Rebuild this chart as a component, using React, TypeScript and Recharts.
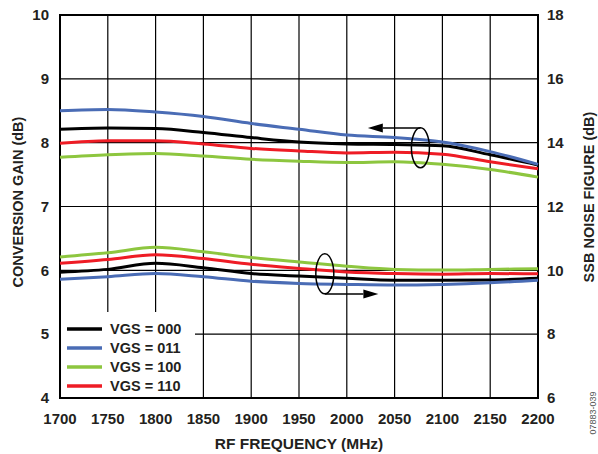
import React from 'react';
import {
  ComposedChart, Line, XAxis, YAxis, CartesianGrid,
  ReferenceArea, ReferenceDot, ReferenceLine
} from 'recharts';

// --- DATA ---

const freqs = [1700, 1750, 1800, 1850, 1900, 1950, 2000, 2050, 2100, 2150, 2200];

// conversion gain, left axis (dB)
const gain000 = [8.21, 8.23, 8.22, 8.16, 8.08, 8.01, 7.98, 7.97, 7.95, 7.81, 7.65];
const gain011 = [8.50, 8.52, 8.48, 8.41, 8.30, 8.21, 8.12, 8.08, 8.01, 7.86, 7.66];
const gain100 = [7.77, 7.81, 7.83, 7.79, 7.74, 7.71, 7.69, 7.70, 7.66, 7.58, 7.46];
const gain110 = [7.99, 8.03, 8.03, 7.98, 7.91, 7.87, 7.84, 7.85, 7.82, 7.70, 7.59];

// SSB noise figure, right axis (dB)
const nf000 = [9.94, 10.03, 10.22, 10.08, 9.90, 9.82, 9.75, 9.69, 9.69, 9.70, 9.75];
const nf011 = [9.72, 9.80, 9.90, 9.80, 9.66, 9.59, 9.56, 9.54, 9.56, 9.61, 9.69];
const nf100 = [10.42, 10.55, 10.72, 10.58, 10.40, 10.26, 10.13, 10.03, 10.01, 10.03, 10.05];
const nf110 = [10.22, 10.34, 10.49, 10.37, 10.19, 10.06, 9.95, 9.90, 9.88, 9.90, 9.89];

const gainTicks = [4, 5, 6, 7, 8, 9, 10];
const nfTicks = [6, 8, 10, 12, 14, 16, 18];

const series = [
  { key: '000', name: 'VGS = 000', color: '#000000' },
  { key: '011', name: 'VGS = 011', color: '#4a6cb5' },
  { key: '100', name: 'VGS = 100', color: '#8dc63f' },
  { key: '110', name: 'VGS = 110', color: '#ee1c25' },
];

const data = freqs.map((f, i) => ({
  f,
  g000: gain000[i], g011: gain011[i], g100: gain100[i], g110: gain110[i],
  n000: nf000[i], n011: nf011[i], n100: nf100[i], n110: nf110[i],
}));

const FONT = '"Liberation Sans", Arial, sans-serif';
const tickStyle = { fontSize: 15, fontWeight: 700, fill: '#231f20', fontFamily: FONT };
const titleStyle = { fontSize: 14.5, fontWeight: 700, fontFamily: FONT, fill: '#231f20' };

// rotated axis title
const VTitle = (x: number, y: number, text: string) => () => (
  <text x={x} y={y} transform={`rotate(-90, ${x}, ${y})`} textAnchor="middle"
    dominantBaseline="central" style={titleStyle}>
    {text}
  </text>
);

// ellipse around a group of curves
const Ring = (props: any) => (
  <ellipse cx={props.cx} cy={props.cy} rx={9} ry={20} fill="none" stroke="#000" strokeWidth={1.5} />
);

// horizontal line with arrowhead at its end
const Arrow = (props: any) => {
  const { x1, y1, x2, y2 } = props;
  const dir = x2 > x1 ? 1 : -1;
  const tip = x2;
  const base = tip - dir * 15;
  return (
    <g>
      <line x1={x1} y1={y1} x2={base} y2={y2} stroke="#000" strokeWidth={1.5} />
      <polygon points={`${tip},${y2} ${base},${y2 - 4.5} ${base},${y2 + 4.5}`} fill="#000" />
    </g>
  );
};

// legend sits inside the plot, over the grid
const LegendBox = () => (
  <div style={{
    position: 'absolute', left: 61, top: 312, width: 134, height: 85, background: '#fff',
    paddingTop: 7, boxSizing: 'border-box'
  }}>
    {series.map(s => (
      <div key={s.key} style={{ display: 'flex', alignItems: 'center', height: 19 }}>
        <svg width={49} height={10}>
          <line x1={6} y1={5} x2={41} y2={5} stroke={s.color} strokeWidth={3.5} />
        </svg>
        <span style={{ fontSize: 14.5, fontWeight: 700, fontFamily: FONT, color: '#231f20', whiteSpace: 'nowrap' }}>
          {s.name}
        </span>
      </div>
    ))}
  </div>
);

export default function App() {
  return (
    <div style={{ position: 'absolute', left: 0, top: 0, width: 598, height: 454, background: '#fff' }}>
      <ComposedChart width={598} height={454} data={data} margin={{ top: 15, right: 0, left: 0, bottom: 0 }}>
        <CartesianGrid stroke="#000" strokeWidth={1.2} yAxisId="gain"
          horizontalValues={gainTicks} verticalValues={freqs} />

        <XAxis dataKey="f" type="number" domain={[1700, 2200]} ticks={freqs} interval={0}
          height={56} tickLine={false} axisLine={false} tickMargin={9} tick={tickStyle}
          label={(props: any) => {
            const vb = props.viewBox || {};
            return (
              <text x={vb.x + vb.width / 2} y={449} textAnchor="middle"
                style={{ ...titleStyle, fontSize: 15.5 }}>
                RF FREQUENCY (MHz)
              </text>
            );
          }} />

        <YAxis yAxisId="gain" domain={[4, 10]} ticks={gainTicks} interval={0} width={60}
          tickLine={false} axisLine={false} tickMargin={5} tick={tickStyle}
          label={VTitle(17.5, 202, 'CONVERSION GAIN (dB)')} />

        <YAxis yAxisId="nf" orientation="right" domain={[6, 18]} ticks={nfTicks} interval={0} width={60}
          tickLine={false} axisLine={false} tickMargin={3} tick={tickStyle}
          label={VTitle(589, 197, 'SSB NOISE FIGURE (dB)')} />

        <ReferenceArea yAxisId="gain" x1={1700} x2={2200} y1={4} y2={10}
          fill="none" stroke="#000" strokeWidth={2} />

        {series.map(s => (
          <Line key={'g' + s.key} yAxisId="gain" type="monotone" dataKey={'g' + s.key}
            stroke={s.color} strokeWidth={3} dot={false} isAnimationActive={false} />
        ))}
        {series.map(s => (
          <Line key={'n' + s.key} yAxisId="nf" type="monotone" dataKey={'n' + s.key}
            stroke={s.color} strokeWidth={3} dot={false} isAnimationActive={false} />
        ))}

        {/* arrows: upper group -> left axis, lower group -> right axis */}
        <ReferenceDot yAxisId="gain" x={2077} y={7.92} shape={Ring} />
        <ReferenceLine yAxisId="gain" segment={[{ x: 2077, y: 8.23 }, { x: 2022, y: 8.23 }]} shape={Arrow} />
        <ReferenceDot yAxisId="nf" x={1977} y={9.89} shape={Ring} />
        <ReferenceLine yAxisId="nf" segment={[{ x: 1977, y: 9.26 }, { x: 2033, y: 9.26 }]} shape={Arrow} />

        <text x={593} y={413} transform="rotate(-90, 593, 413)" textAnchor="middle" dominantBaseline="central"
          style={{ fontSize: 9, fontFamily: FONT, fill: '#555' }}>
          07883-039
        </text>
      </ComposedChart>
      <LegendBox />
    </div>
  );
}
